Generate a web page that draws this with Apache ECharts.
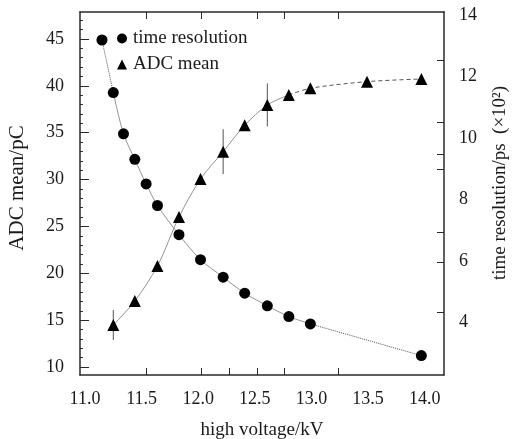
<!DOCTYPE html>
<html>
<head>
<meta charset="utf-8">
<script src="https://cdn.jsdelivr.net/npm/echarts@6/dist/echarts.min.js"></script>
<style>html,body{margin:0;padding:0;background:#fff}#c{width:512px;height:439px}</style>
</head>
<body>
<div id="c"></div>
<script>
// ---- data ----
var circleX = [11.15, 11.25, 11.34, 11.44, 11.54, 11.64, 11.83, 12.02, 12.22, 12.41, 12.61, 12.80, 12.99, 13.97];
var timeRes = [13.19, 11.48, 10.14, 9.31, 8.51, 7.81, 6.86, 6.05, 5.48, 4.96, 4.55, 4.20, 3.96, 2.93];
var triX = [11.25, 11.44, 11.64, 11.83, 12.02, 12.22, 12.41, 12.61, 12.80, 12.99, 13.49, 13.97];
var adcMean = [14.48, 17.04, 20.78, 26.00, 30.06, 32.98, 35.79, 37.96, 39.03, 39.74, 40.45, 40.73];
var adcErr = [1.6, 0, 0, 0, 0, 2.4, 0, 2.3, 0, 0, 0, 0];
var xTickLabels = [11.0, 11.5, 12.0, 12.5, 13.0, 13.5, 14.0];
var leftTickLabels = [10, 15, 20, 25, 30, 35, 40, 45];
var rightTickLabels = [4, 6, 8, 10, 12, 14];
var bottomTicks = [11.54, 12.03, 12.27, 12.52, 12.76, 13.24];
var topTicks = [11.54, 12.03, 12.52, 12.76, 13.24];
var rightTicks = [4.33, 5.96, 6.93, 9.0, 9.49, 10.53, 12.54];
var leftMinor = [];
for (var v = 10; v <= 47; v++) leftMinor.push(v);

function pairs(xs, ys, a, b) {
  var out = [];
  for (var i = a; i <= b; i++) out.push([xs[i], ys[i]]);
  return out;
}
var FONT = 'Liberation Serif';
var TXT = '#1a1a1a';
var AX = '#2a2a2a';

var chart = echarts.init(document.getElementById('c'), null, {renderer: 'canvas'});
var xMin = 10.956, xMax = 14.17;
var lMin = 9.146, lMax = 47.88;
var rMin = 2.3, rMax = 14.1;

var option = {
  animation: false,
  backgroundColor: '#fff',
  grid: {left: 80, top: 12, right: 68, bottom: 64, containLabel: false, outerBoundsMode: 'none'},
  legend: {
    orient: 'vertical', left: 112, top: 24, itemWidth: 10, itemHeight: 10, itemGap: 7,
    data: ['time resolution', 'ADC mean'],
    textStyle: {fontFamily: FONT, fontSize: 19, color: TXT, padding: [0, 0, 0, 1]}
  },
  xAxis: [{
    type: 'value', min: xMin, max: xMax, position: 'bottom',
    axisLine: {lineStyle: {color: AX, width: 1.5}},
    axisTick: {inside: true, length: 7, customValues: bottomTicks, lineStyle: {color: AX, width: 1}},
    axisLabel: {customValues: xTickLabels, formatter: function (v) { return v.toFixed(1); },
      margin: 15, fontFamily: FONT, fontSize: 18, color: TXT},
    splitLine: {show: false},
    name: 'high voltage/kV', nameLocation: 'middle', nameGap: 46,
    nameTextStyle: {fontFamily: FONT, fontSize: 19, color: TXT}
  }, {
    type: 'value', min: xMin, max: xMax, position: 'top',
    axisLine: {lineStyle: {color: AX, width: 1.5}},
    axisTick: {inside: true, length: 7, customValues: topTicks, lineStyle: {color: AX, width: 1}},
    axisLabel: {show: false}, splitLine: {show: false}
  }],
  yAxis: [{
    type: 'value', min: lMin, max: lMax, position: 'left',
    axisLine: {show: true, lineStyle: {color: AX, width: 1.5}},
    axisTick: {show: true, inside: true, length: 9, customValues: leftTickLabels, lineStyle: {color: AX, width: 1}},
    axisLabel: {customValues: leftTickLabels, margin: 16, fontFamily: FONT, fontSize: 18, color: TXT},
    splitLine: {show: false},
    name: 'ADC mean/pC', nameLocation: 'middle', nameGap: 52, nameRotate: 90,
    nameTextStyle: {fontFamily: FONT, fontSize: 21, color: TXT, padding: [0, 0, 0, 11]}
  }, {
    type: 'value', min: rMin, max: rMax, position: 'right',
    axisLine: {show: true, lineStyle: {color: AX, width: 1.5}},
    axisTick: {show: true, inside: true, length: 7, customValues: rightTicks, lineStyle: {color: AX, width: 1}},
    axisLabel: {customValues: rightTickLabels, margin: 15, fontFamily: FONT, fontSize: 18, color: TXT},
    splitLine: {show: false},
    name: 'time resolution/ps  (\u00d710\u00b2)', nameLocation: 'middle', nameGap: 47, nameRotate: 90,
    nameTextStyle: {fontFamily: FONT, fontSize: 19, color: TXT, padding: [0, 0, 0, 21]}
  }, {
    type: 'value', min: lMin, max: lMax, position: 'left',
    axisLine: {show: false},
    axisTick: {show: true, inside: true, length: 3, customValues: leftMinor, lineStyle: {color: AX, width: 1}},
    axisLabel: {show: false}, splitLine: {show: false}
  }],
  series: [
    // fitted curves (thin grey)
    {type: 'line', xAxisIndex: 0, yAxisIndex: 1, data: pairs(circleX, timeRes, 0, 1), smooth: 0.3, symbol: 'none',
      lineStyle: {color: '#555', width: 1, type: 'dotted'}, silent: true, z: 1},
    {type: 'line', xAxisIndex: 0, yAxisIndex: 1, data: pairs(circleX, timeRes, 1, 12), smooth: 0.3, symbol: 'none',
      lineStyle: {color: '#777', width: 0.8}, silent: true, z: 1},
    {type: 'line', xAxisIndex: 0, yAxisIndex: 1, data: pairs(circleX, timeRes, 12, 13), smooth: 0.3, symbol: 'none',
      lineStyle: {color: '#555', width: 1, type: 'dotted'}, silent: true, z: 1},
    {type: 'line', xAxisIndex: 0, yAxisIndex: 0, data: pairs(triX, adcMean, 0, 8), smooth: 0.3, symbol: 'none',
      lineStyle: {color: '#777', width: 0.8}, silent: true, z: 1},
    {type: 'line', xAxisIndex: 0, yAxisIndex: 0, data: pairs(triX, adcMean, 8, 11), smooth: 0.3, symbol: 'none',
      lineStyle: {color: '#555', width: 1, type: [4, 3]}, silent: true, z: 1},
    // error bars
    {type: 'custom', xAxisIndex: 0, yAxisIndex: 0, silent: true, z: 2,
      data: triX.map(function (x, i) { return [x, adcMean[i] - adcErr[i], adcMean[i] + adcErr[i]]; })
        .filter(function (d) { return d[2] > d[1]; }),
      renderItem: function (params, api) {
        var lo = api.coord([api.value(0), api.value(1)]);
        var hi = api.coord([api.value(0), api.value(2)]);
        return {type: 'line', shape: {x1: lo[0], y1: lo[1], x2: hi[0], y2: hi[1]},
          style: {stroke: '#555', lineWidth: 1}};
      }},
    // markers
    {name: 'time resolution', type: 'scatter', xAxisIndex: 0, yAxisIndex: 1, data: pairs(circleX, timeRes, 0, circleX.length - 1),
      symbol: 'circle', symbolSize: 11, itemStyle: {color: '#000', opacity: 1}, z: 5},
    {name: 'ADC mean', type: 'scatter', xAxisIndex: 0, yAxisIndex: 0, data: pairs(triX, adcMean, 0, triX.length - 1),
      symbol: 'triangle', symbolSize: 12, itemStyle: {color: '#000', opacity: 1}, z: 5}
  ]
};
chart.setOption(option);
</script>
</body>
</html>
